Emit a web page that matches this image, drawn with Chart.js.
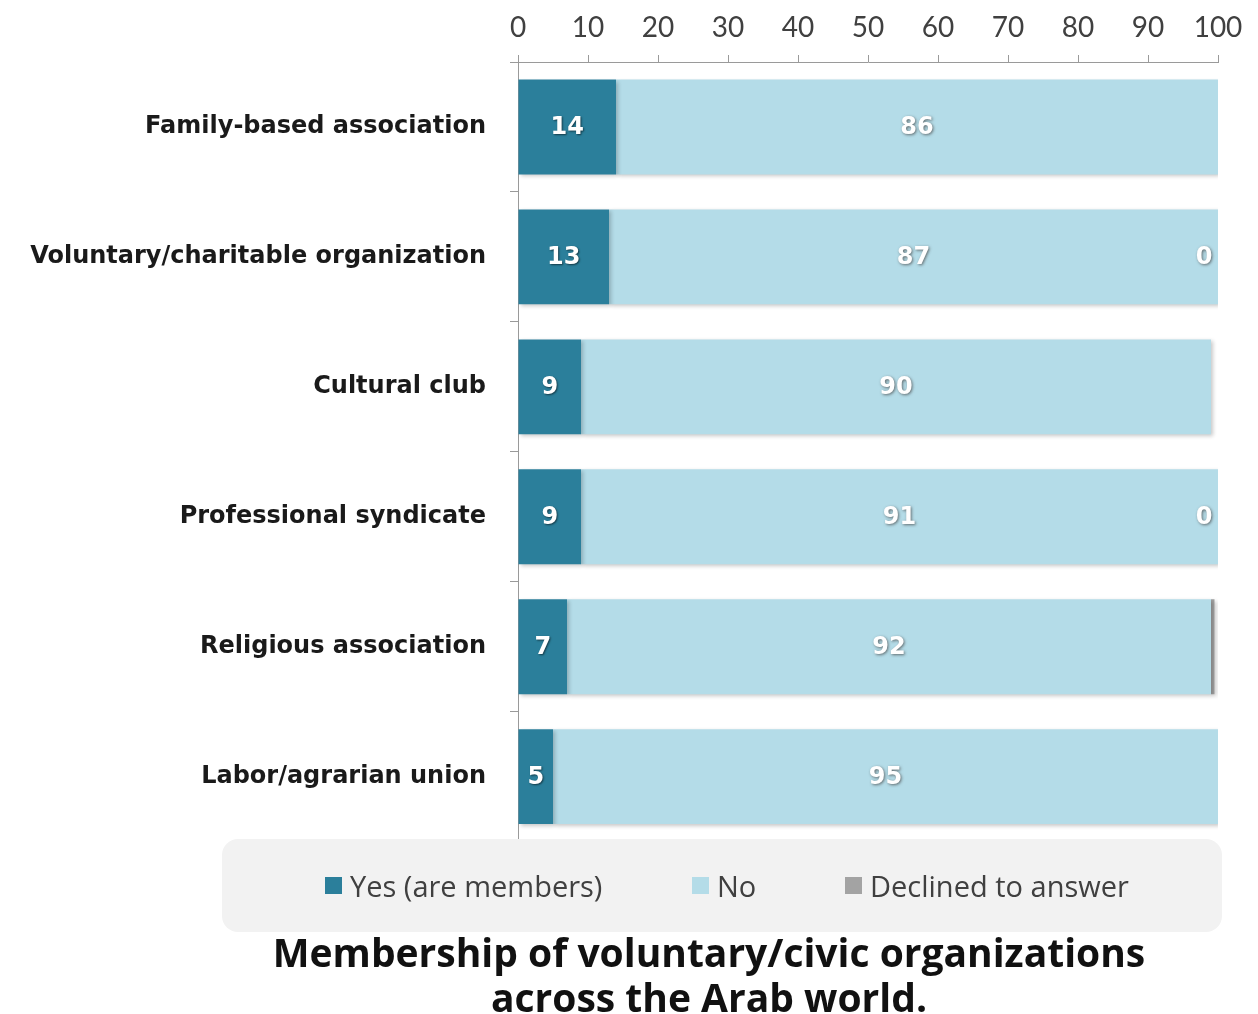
<!DOCTYPE html>
<html>
<head>
<meta charset="utf-8">
<title>Membership of voluntary/civic organizations</title>
<script src="https://cdn.jsdelivr.net/npm/chart.js@4/dist/chart.umd.min.js"></script>
<style>
  html, body { margin: 0; padding: 0; background: #ffffff; }
  #wrap { position: relative; width: 1258px; height: 1014px; overflow: hidden; }
  #chart { position: absolute; left: 0; top: 0; }
  #legend {
    position: absolute; left: 222px; top: 839px; width: 1000px; height: 93px;
    background: #f2f2f2; border-radius: 16px;
  }
  .item { position: absolute; top: 0; height: 93px; display: flex; align-items: center;
          font-family: "Open Sans", Lato, sans-serif; font-size: 29px; color: #404040; white-space: nowrap; }
  .swatch { width: 17px; height: 17px; margin-right: 8px; }
  #title {
    position: absolute; left: 160px; width: 1098px; top: 929px; text-align: center;
    font-family: "Open Sans", Lato, sans-serif; font-weight: bold; font-size: 39px;
    line-height: 45px; color: #111111;
  }
</style>
</head>
<body>
<div id="wrap">
  <canvas id="chart" width="1258" height="880"></canvas>
  <div id="legend"></div>
  <div id="title">Membership of voluntary/civic organizations<br>across the Arab world.</div>
</div>
<script>
// Organization types, top to bottom
const categories = [
  'Family-based association',
  'Voluntary/charitable organization',
  'Cultural club',
  'Professional syndicate',
  'Religious association',
  'Labor/agrarian union'
];

// Share of respondents (%)
const yesValues      = [14, 13, 9, 9, 7, 5];
const noValues       = [86, 87, 90, 91, 92, 95];
const declinedValues = [0, 0, 0, 0, 0.5, 0];
// Which "declined" segments carry a printed value
const declinedLabelled = [false, true, false, true, false, false];

const xTicks = [0, 10, 20, 30, 40, 50, 60, 70, 80, 90, 100];

const seriesNames  = ['Yes (are members)', 'No', 'Declined to answer'];
const seriesColors = ['#2b7f9b', '#b4dce8', '#a3a3a3'];
const legendLefts  = [103, 470, 623];

// Plot area edges in page pixels
const plotLeft = 518, plotTop = 62, plotBottom = 842;

// Soft drop shadow under the bars
const barShadow = {
  id: 'barShadow',
  beforeDatasetsDraw(chart) {
    const ctx = chart.ctx;
    ctx.save();
    ctx.shadowColor = 'rgba(0,0,0,0.22)';
    ctx.shadowBlur = 4;
    ctx.shadowOffsetX = 2;
    ctx.shadowOffsetY = 2;
  },
  afterDatasetsDraw(chart) {
    chart.ctx.restore();
  }
};

// Value labels inside the bar segments
const valueLabels = {
  id: 'valueLabels',
  afterDatasetsDraw(chart) {
    const ctx = chart.ctx;
    ctx.save();
    ctx.font = 'bold 24px "DejaVu Sans", Verdana, sans-serif';
    ctx.textAlign = 'center';
    ctx.textBaseline = 'middle';
    chart.data.datasets.forEach((ds, di) => {
      const meta = chart.getDatasetMeta(di);
      meta.data.forEach((bar, i) => {
        const v = ds.data[i];
        let x = (bar.x + bar.base) / 2;
        if (di === 2) {
          if (!declinedLabelled[i]) return;
          x = bar.x - 14;
        }
        if (di === 0) {
          ctx.shadowColor = 'rgba(0,0,0,0.55)';
          ctx.shadowBlur = 2;
          ctx.shadowOffsetX = 1;
          ctx.shadowOffsetY = 1;
        } else {
          ctx.shadowColor = 'rgba(70,70,70,0.75)';
          ctx.shadowBlur = 3;
          ctx.shadowOffsetX = 1;
          ctx.shadowOffsetY = 1;
        }
        ctx.fillStyle = '#ffffff';
        ctx.fillText(String(v), x, bar.y + 1);
      });
    });
    ctx.restore();
  }
};

const datasets = [yesValues, noValues, declinedValues].map((vals, k) => ({
  label: seriesNames[k],
  data: vals,
  backgroundColor: seriesColors[k],
  borderWidth: 0,
  barPercentage: 0.73,
  categoryPercentage: 1.0
}));

const canvas = document.getElementById('chart');
const chart = new Chart(canvas, {
  type: 'bar',
  data: { labels: categories, datasets },
  plugins: [barShadow, valueLabels],
  options: {
    indexAxis: 'y',
    responsive: false,
    maintainAspectRatio: false,
    animation: false,
    devicePixelRatio: 1,
    layout: { padding: { left: 0, right: 40, top: 0, bottom: 0 } },
    plugins: {
      legend: { display: false },
      tooltip: { enabled: false }
    },
    scales: {
      x: {
        position: 'top',
        stacked: true,
        min: 0,
        max: 100,
        afterBuildTicks(scale) { scale.ticks = xTicks.map(v => ({ value: v })); },
        afterFit(scale) { scale.height = plotTop; },
        ticks: {
          color: '#404040',
          font: { family: 'Lato, "Liberation Sans", sans-serif', size: 28 },
          padding: 10,
          maxRotation: 0
        },
        grid: { drawOnChartArea: false, tickLength: 7, color: '#9a9a9a' },
        border: { color: '#9a9a9a', width: 1 }
      },
      y: {
        stacked: true,
        afterFit(scale) { scale.width = plotLeft; },
        ticks: {
          color: '#1a1a1a',
          font: { family: '"DejaVu Sans", Verdana, sans-serif', size: 24, weight: 'bold' },
          padding: 24
        },
        grid: { offset: true, drawOnChartArea: false, tickLength: 8, color: '#9a9a9a' },
        border: { color: '#9a9a9a', width: 1 }
      }
    }
  }
});

// Grow or shrink the canvas so the plot area ends at its intended bottom edge
const gap = Math.round(plotBottom - chart.chartArea.bottom);
if (gap !== 0) {
  chart.resize(1258, canvas.height + gap);
}

// Legend strip beneath the plot
const legend = document.getElementById('legend');
seriesNames.forEach((name, k) => {
  const item = document.createElement('div');
  item.className = 'item';
  item.style.left = legendLefts[k] + 'px';
  const sw = document.createElement('span');
  sw.className = 'swatch';
  sw.style.background = seriesColors[k];
  const tx = document.createElement('span');
  tx.textContent = name;
  item.appendChild(sw);
  item.appendChild(tx);
  legend.appendChild(item);
});
</script>
</body>
</html>
